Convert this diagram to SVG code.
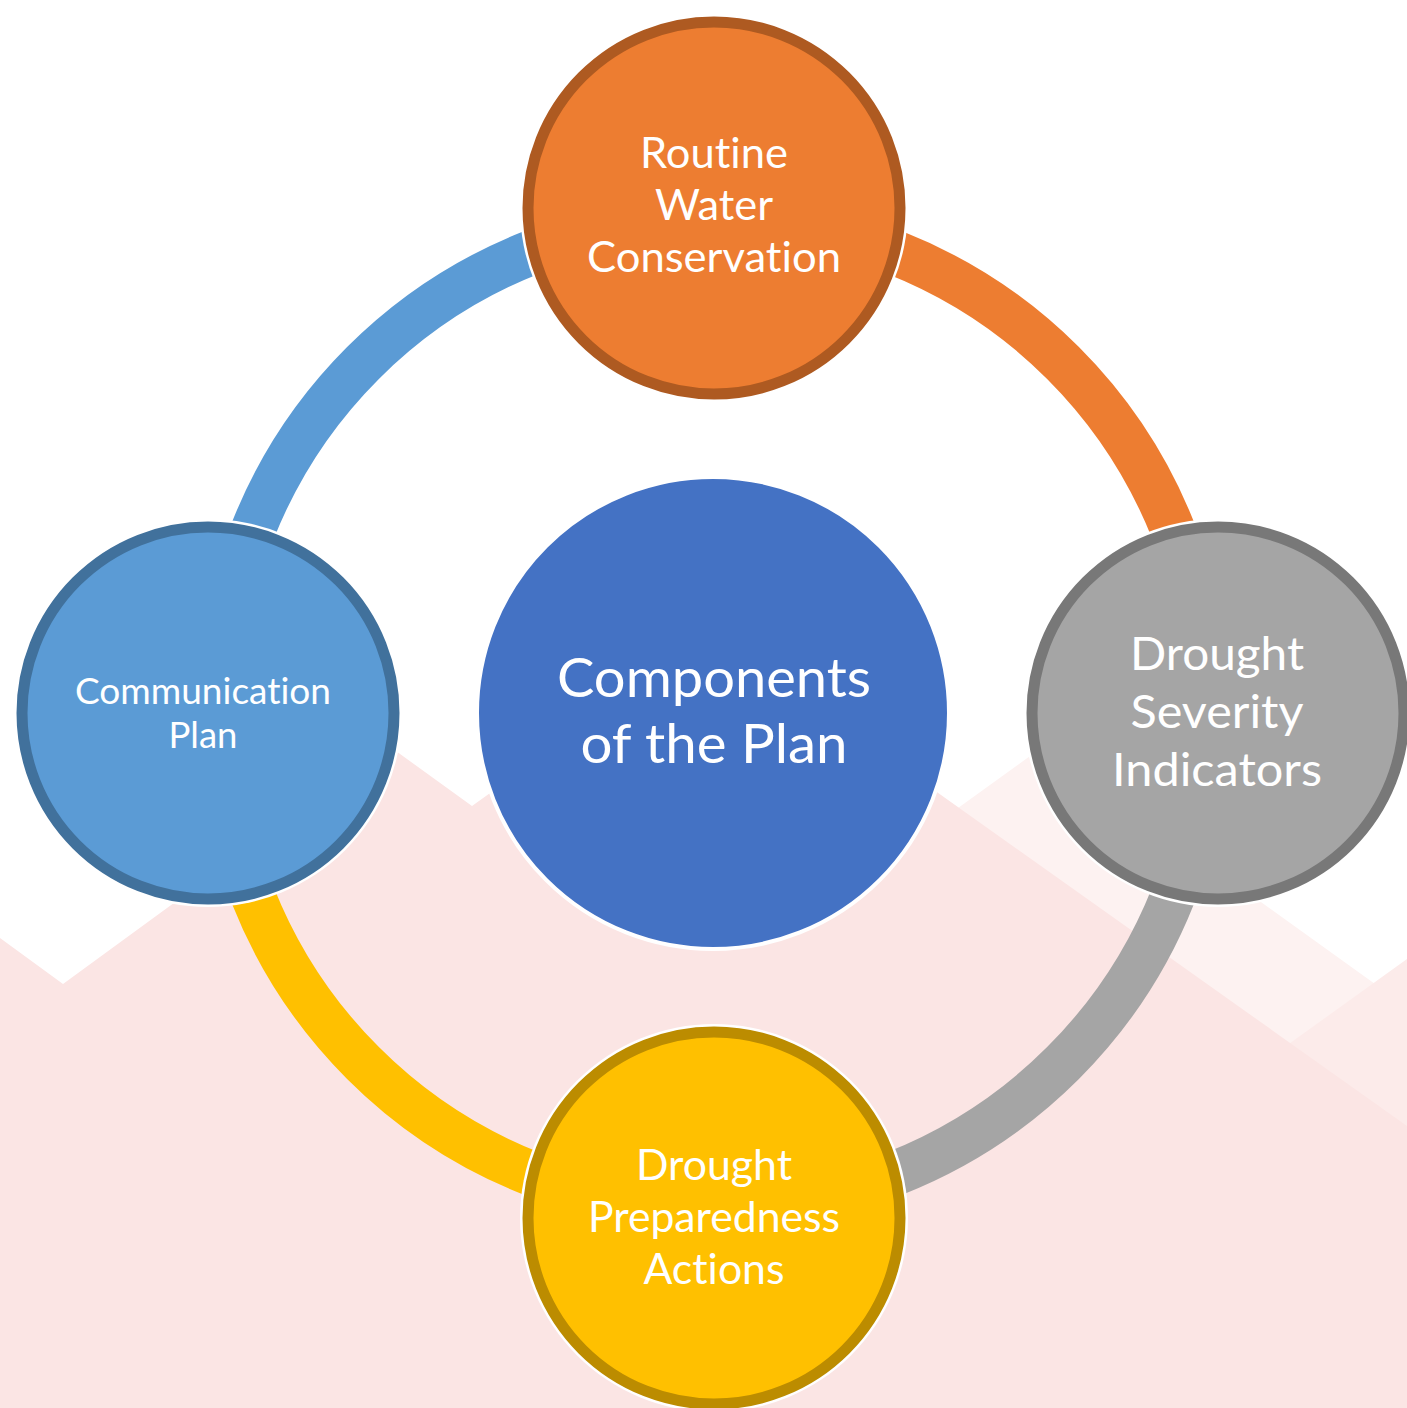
<svg xmlns="http://www.w3.org/2000/svg" width="1407" height="1408" viewBox="0 0 1407 1408">
  <style>
    .lbl { font-family: Lato, "Open Sans", "Liberation Sans", sans-serif; fill: #FFFFFF; text-anchor: middle; font-variant-ligatures: none; font-feature-settings: "liga" 0, "clig" 0, "dlig" 0; }
    .arc { fill: none; stroke-width: 45; stroke-linecap: butt; }
    .halo { fill: #FFFFFF; }
    .node { stroke-width: 11; }
  </style>
  <rect x="0" y="0" width="1407" height="1408" fill="#FFFFFF"/>
  <g id="background">
    <polygon points="800,922 1044,746 1407,1007 1407,1408 800,1408" fill="#FDF2F1"/>
    <polygon points="1200,1108 1450,928 1450,1408 1200,1408" fill="#FCEBEA"/>
    <polygon points="0,938 63,984 389,746 472,806 713,633 1407,1126 1407,1408 0,1408" fill="#FBE5E4"/>
  </g>
  <g id="connectors">
    <path class="arc" stroke="#ED7D31" d="M713,218 A495,495 0 0 1 1208,713"/>
    <path class="arc" stroke="#A5A5A5" d="M1208,713 A495,495 0 0 1 713,1208"/>
    <path class="arc" stroke="#FFC000" d="M713,1208 A495,495 0 0 1 218,713"/>
    <path class="arc" stroke="#5B9BD5" d="M218,713 A495,495 0 0 1 713,218"/>
  </g>
  <g id="node-center">
    <circle cx="713" cy="713" r="236" fill="#4472C4" stroke="#FFFFFF" stroke-width="4"/>
    <text class="lbl" font-size="54" x="714" y="697" textLength="314" lengthAdjust="spacingAndGlyphs">Components</text>
    <text class="lbl" font-size="54" x="714" y="763" textLength="267" lengthAdjust="spacingAndGlyphs">of the Plan</text>
  </g>
  <g id="node-top">
    <circle class="halo" cx="714" cy="208" r="194"/>
    <circle class="node" cx="714" cy="208" r="186" fill="#ED7D31" stroke="#AE5A21"/>
    <text class="lbl" font-size="42" x="714" y="168" textLength="148" lengthAdjust="spacingAndGlyphs">Routine</text>
    <text class="lbl" font-size="42" x="714" y="220" textLength="118" lengthAdjust="spacingAndGlyphs">Water</text>
    <text class="lbl" font-size="42" x="714" y="272" textLength="254" lengthAdjust="spacingAndGlyphs">Conservation</text>
  </g>
  <g id="node-right">
    <circle class="halo" cx="1218" cy="713" r="194"/>
    <circle class="node" cx="1218" cy="713" r="186" fill="#A5A5A5" stroke="#787878"/>
    <text class="lbl" font-size="47" x="1217" y="670" textLength="174" lengthAdjust="spacingAndGlyphs">Drought</text>
    <text class="lbl" font-size="47" x="1217" y="728" textLength="173" lengthAdjust="spacingAndGlyphs">Severity</text>
    <text class="lbl" font-size="47" x="1217" y="786" textLength="210" lengthAdjust="spacingAndGlyphs">Indicators</text>
  </g>
  <g id="node-bottom">
    <circle class="halo" cx="714" cy="1218" r="194"/>
    <circle class="node" cx="714" cy="1218" r="186" fill="#FFC000" stroke="#BC8C00"/>
    <text class="lbl" font-size="42" x="714" y="1180" textLength="156" lengthAdjust="spacingAndGlyphs">Drought</text>
    <text class="lbl" font-size="42" x="714" y="1232" textLength="252" lengthAdjust="spacingAndGlyphs">Preparedness</text>
    <text class="lbl" font-size="42" x="714" y="1284" textLength="141" lengthAdjust="spacingAndGlyphs">Actions</text>
  </g>
  <g id="node-left">
    <circle class="halo" cx="208" cy="713" r="194"/>
    <circle class="node" cx="208" cy="713" r="186" fill="#5B9BD5" stroke="#41719C"/>
    <text class="lbl" font-size="36" x="203" y="704" textLength="256" lengthAdjust="spacingAndGlyphs">Communication</text>
    <text class="lbl" font-size="36" x="203" y="748" textLength="69" lengthAdjust="spacingAndGlyphs">Plan</text>
  </g>
</svg>
